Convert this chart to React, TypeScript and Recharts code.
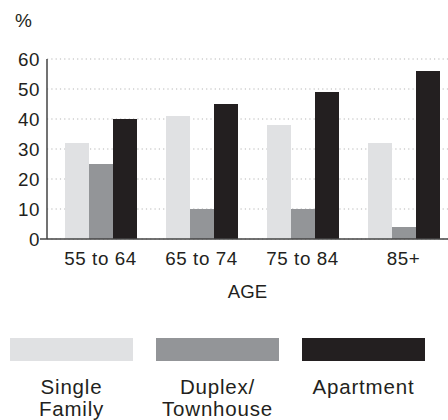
import React from "react";
import { BarChart, Bar, XAxis, YAxis, CartesianGrid } from "recharts";

// Age groups along the x axis
const ageGroups = ["55 to 64", "65 to 74", "75 to 84", "85+"];

// Share of each housing type (%) per age group
const singleFamily = [32, 41, 38, 32];
const duplexTownhouse = [25, 10, 10, 4];
const apartment = [40, 45, 49, 56];

const yTicks = [0, 10, 20, 30, 40, 50, 60];

const seriesKeys = ["single", "duplex", "apartment"];
const seriesNames = ["Single Family", "Duplex/Townhouse", "Apartment"];
const seriesColors = ["#e0e1e3", "#939598", "#231f20"];
const legendLines = [["Single", "Family"], ["Duplex/", "Townhouse"], ["Apartment"]];

const data = ageGroups.map((age, i) => ({
  age,
  single: singleFamily[i],
  duplex: duplexTownhouse[i],
  apartment: apartment[i],
}));

const FONT = "'Liberation Sans', Arial, Helvetica, sans-serif";
const TEXT = "#231f20";

const YTick = (props: any) => {
  const { x, y, payload } = props;
  return (
    <g>
      {payload.value === 0 && (
        <line x1={x} y1={y} x2={x + 7} y2={y} stroke="#444" strokeWidth={1.5} />
      )}
      <text
        x={x}
        y={y}
        dy="0.36em"
        textAnchor="end"
        fontSize={18.8}
        letterSpacing={0.6}
        fontFamily={FONT}
        fill={TEXT}
      >
        {payload.value}
      </text>
    </g>
  );
};

export default function App() {
  return (
    <div
      style={{
        position: "fixed",
        left: 0,
        top: 0,
        width: 448,
        height: 420,
        overflow: "hidden",
        background: "#fff",
        fontFamily: FONT,
      }}
    >
      <BarChart
        width={460}
        height={420}
        data={data}
        margin={{ top: 59, right: 6, left: 0, bottom: 121 }}
        barGap={0}
        barSize={24}
      >
        <CartesianGrid
          vertical={false}
          stroke="#b5b5b5"
          strokeDasharray="1.2 3.1"
          strokeWidth={1}
        />
        <XAxis
          dataKey="age"
          height={60}
          padding={{ left: 3, right: 0 }}
          axisLine={{ stroke: "#444", strokeWidth: 1.5 }}
          tickLine={false}
          tickSize={0}
          tickMargin={13}
          tick={{ fontSize: 18.8, letterSpacing: 0.6, fill: TEXT, fontFamily: FONT }}
          label={{
            value: "AGE",
            position: "insideBottom",
            offset: 1,
            dx: -3,
            fontSize: 18.6,
            fill: TEXT,
            fontFamily: FONT,
          }}
        />
        <YAxis
          width={47}
          domain={[0, 60]}
          ticks={yTicks}
          interval={0}
          axisLine={{ stroke: "#444", strokeWidth: 1.5 }}
          tickLine={false}
          tickSize={0}
          tickMargin={7}
          tick={<YTick />}
          label={{
            value: "%",
            position: "top",
            offset: 32,
            fontSize: 19,
            fill: TEXT,
            fontFamily: FONT,
          }}
        />
        {seriesKeys.map((k, i) => (
          <Bar
            key={k}
            dataKey={k}
            name={seriesNames[i]}
            fill={seriesColors[i]}
            isAnimationActive={false}
          />
        ))}
      </BarChart>

      {/* Legend: swatch above a centred, line-broken series name */}
      {seriesNames.map((name, i) => (
        <div
          key={name}
          style={{
            position: "absolute",
            left: -1.5 + i * 146,
            top: 338,
            width: 146,
            textAlign: "center",
            color: TEXT,
          }}
        >
          <div
            style={{
              width: 123,
              height: 23,
              margin: "0 auto",
              background: seriesColors[i],
            }}
          />
          <div
            style={{
              marginTop: 15,
              fontSize: 20.5,
              lineHeight: "21.5px",
              letterSpacing: 0.8,
            }}
          >
            {legendLines[i].map((line) => (
              <div key={line}>{line}</div>
            ))}
          </div>
        </div>
      ))}
    </div>
  );
}
